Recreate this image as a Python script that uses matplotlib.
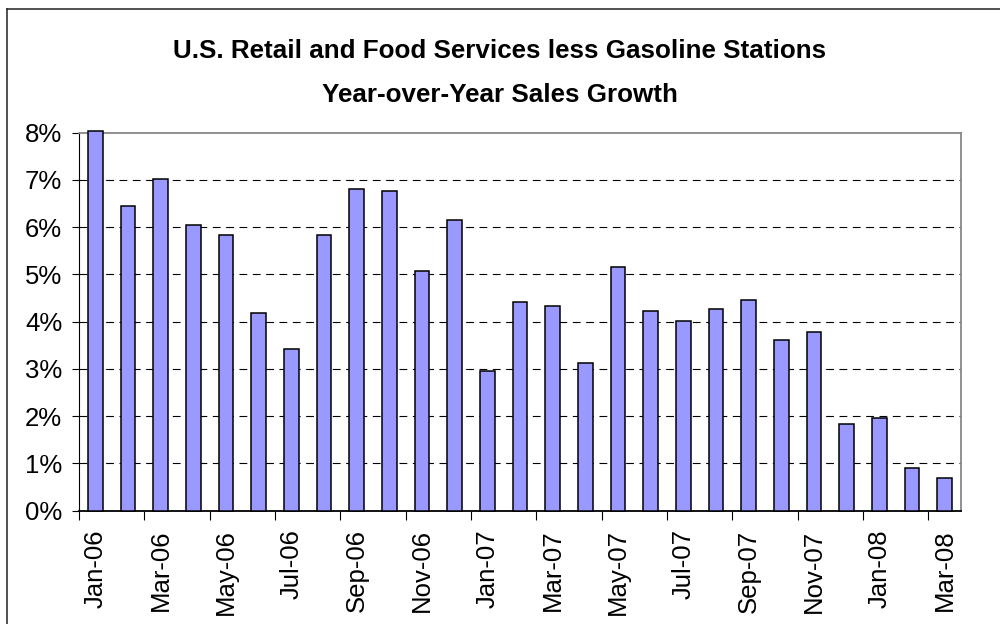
import numpy as np
import matplotlib
matplotlib.use('Agg')
import matplotlib.pyplot as plt
from matplotlib.lines import Line2D
from matplotlib.ticker import FixedLocator, FuncFormatter

plt.rcParams['font.family'] = ['Liberation Sans', 'DejaVu Sans']

# year-over-year growth, percent
months = ['Jan-06', 'Feb-06', 'Mar-06', 'Apr-06', 'May-06', 'Jun-06', 'Jul-06', 'Aug-06',
          'Sep-06', 'Oct-06', 'Nov-06', 'Dec-06', 'Jan-07', 'Feb-07', 'Mar-07', 'Apr-07',
          'May-07', 'Jun-07', 'Jul-07', 'Aug-07', 'Sep-07', 'Oct-07', 'Nov-07', 'Dec-07',
          'Jan-08', 'Feb-08', 'Mar-08']
growth = [8.04, 6.45, 7.02, 6.05, 5.83, 4.19, 3.43, 5.83, 6.80, 6.76, 5.07, 6.14, 2.95,
          4.41, 4.32, 3.12, 5.16, 4.23, 4.02, 4.27, 4.45, 3.61, 3.79, 1.84, 1.97, 0.91, 0.69]
title1 = 'U.S. Retail and Food Services less Gasoline Stations'
title2 = 'Year-over-Year Sales Growth'

W, H = 1000, 624
fig = plt.figure(figsize=(W / 100, H / 100), dpi=100)
ax = fig.add_axes([79 / W, (H - 510.7) / H, 882 / W, (510.7 - 132.5) / H])

x = np.arange(len(months))
bars = ax.bar(x, growth, width=0.44, color='#9999FF', edgecolor='black', linewidth=1.1, zorder=3)
for b in bars:
    b.set_clip_on(False)

ax.set_xlim(-0.5, len(months) - 0.5)
ax.set_ylim(0, 8)

# dashed gridlines
for v in range(1, 8):
    ax.axhline(v, color='black', lw=0.8, dashes=(7, 5), zorder=1)

ax.spines['top'].set_color('#888888')
ax.spines['right'].set_color('#888888')
ax.spines['top'].set_linewidth(1.3)
ax.spines['right'].set_linewidth(1.3)
ax.spines['left'].set_linewidth(0.8)
ax.spines['bottom'].set_linewidth(1.3)

ax.set_yticks(range(0, 9))
ax.yaxis.set_major_formatter(FuncFormatter(lambda v, p: '%d%%' % v))
ax.tick_params(axis='y', direction='out', length=5, width=0.8, pad=7, labelsize=18.5)

# tick marks at category boundaries, labels on every other month
ax.xaxis.set_major_locator(FixedLocator(np.arange(-0.5, len(months) - 1, 2)))
ax.xaxis.set_major_formatter(FuncFormatter(lambda v, p: ''))
ax.xaxis.set_minor_locator(FixedLocator(x[::2]))
ax.set_xticklabels(months[::2], minor=True, rotation=90, fontsize=18.5, va='top')
ax.tick_params(axis='x', which='major', direction='out', length=6.5, width=0.8)
ax.tick_params(axis='x', which='minor', length=0, pad=13.5)

fig.text(0.5, 1 - 50.5 / H, title1, ha='center', va='center', fontsize=18.7, fontweight='bold')
fig.text(0.5, 1 - 94.5 / H, title2, ha='center', va='center', fontsize=18.7, fontweight='bold')

# chart frame (cut off at right and bottom)
fig.add_artist(Line2D([7 / W, 7 / W], [0, 1 - 9 / H], color='#222222', lw=1.1, transform=fig.transFigure))
fig.add_artist(Line2D([7 / W, 1], [1 - 9 / H, 1 - 9 / H], color='#222222', lw=1.1, transform=fig.transFigure))

fig.savefig('out.png', dpi=100)
